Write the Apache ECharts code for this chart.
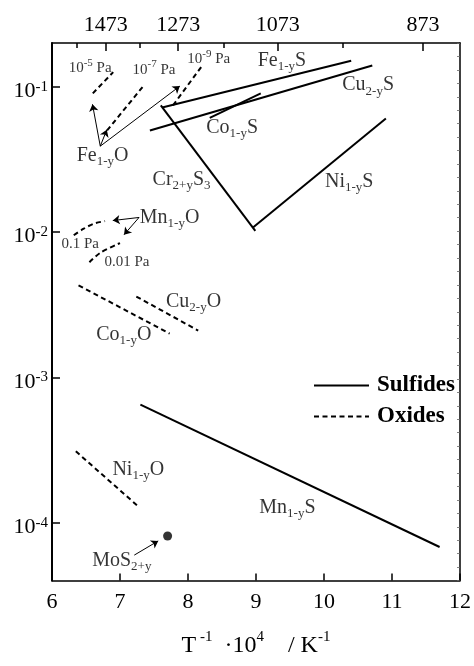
<!DOCTYPE html>
<html>
<head>
<meta charset="utf-8">
<script src="https://cdn.jsdelivr.net/npm/echarts@6/dist/echarts.min.js"></script>
<style>html,body{margin:0;padding:0;background:#fff;}#c{width:474px;height:666px;}</style>
</head>
<body>
<div id="c"></div>
<script>
// ---- data (x = 10^4/T in K^-1, y = deviation value on log scale) ----
const topMajorTemps = [1473, 1273, 1073, 873];
const topMinorTemps = [1573, 1373, 1173, 973];

const sulfideFe = [[7.62, 0.072], [10.40, 0.151]];
const sulfideCu = [[7.44, 0.050], [10.71, 0.140]];
const sulfideCo = [[8.32, 0.061], [9.07, 0.090]];
const sulfideCr = [[7.60, 0.0745], [8.99, 0.0102]];
const sulfideNi = [[8.96, 0.0108], [10.91, 0.0605]];
const sulfideMn = [[7.30, 6.5e-4], [11.70, 6.8e-5]];

const oxideFe5 = [[6.60, 0.090], [6.90, 0.126]];
const oxideFe7 = [[6.81, 0.050], [7.35, 0.102]];
const oxideFe9 = [[7.78, 0.0745], [8.21, 0.140]];
const oxideMn01 = [[6.32, 0.0095], [6.46, 0.0105], [6.61, 0.0114], [6.78, 0.0119]];
const oxideMn001 = [[6.55, 0.0062], [6.71, 0.0072], [7.00, 0.0084]];
const oxideCu = [[7.24, 0.0036], [8.15, 0.0021]];
const oxideCo = [[6.39, 0.0043], [7.73, 0.0020]];
const oxideNi = [[6.35, 3.1e-4], [7.28, 1.28e-4]];

const pointMoS2 = [[7.70, 8.1e-5]];

const arrowSegments = [
  [[6.71, 0.039], [6.595, 0.0757]],
  [[6.71, 0.039], [6.806, 0.0506]],
  [[6.71, 0.039], [7.88, 0.101]],
  [[7.28, 0.0126], [6.894, 0.0120]],
  [[7.28, 0.0126], [7.059, 0.00958]],
  [[7.21, 5.98e-5], [7.562, 7.49e-5]]
];

const annotationTexts = [
  '{p|10}{u|-5}{p| Pa}', '{p|10}{u|-7}{p| Pa}', '{p|10}{u|-9}{p| Pa}',
  '{m|Fe}{b|1-y}{m|O}', '{m|Fe}{b|1-y}{m|S}', '{m|Cu}{b|2-y}{m|S}',
  '{m|Co}{b|1-y}{m|S}', '{m|Cr}{b|2+y}{m|S}{b|3}', '{m|Ni}{b|1-y}{m|S}',
  '{m|Mn}{b|1-y}{m|S}', '{m|Mn}{b|1-y}{m|O}', '{p|0.1 Pa}', '{p|0.01 Pa}',
  '{m|Cu}{b|2-y}{m|O}', '{m|Co}{b|1-y}{m|O}', '{m|Ni}{b|1-y}{m|O}', '{m|MoS}{b|2+y}'
];
const annotationX = [6.561, 7.499, 8.305, 6.744, 9.382, 10.649, 8.649, 7.905, 10.371,
  9.462, 7.729, 6.415, 7.103, 8.082, 7.056, 7.269, 7.026];
const annotationY = [0.1354, 0.1312, 0.1547, 0.0336, 0.1518, 0.1024, 0.0525, 0.02286, 0.02226,
  1.27e-4, 0.01259, 0.0083, 0.00626, 0.00333, 0.00196, 2.31e-4, 5.45e-5];

// ---- chart ----
const FONT = 'Liberation Serif';
const chart = echarts.init(document.getElementById('c'), null, {renderer: 'canvas'});

function solid(data) {
  return {type: 'line', name: 'Sulfides', data: data, symbol: 'none', showSymbol: false,
    lineStyle: {color: '#000', width: 2, type: 'solid'}, itemStyle: {color: '#000'}, silent: true, z: 3};
}
function dashed(data, smooth) {
  return {type: 'line', name: 'Oxides', data: data, symbol: 'none', showSymbol: false, smooth: smooth || false,
    lineStyle: {color: '#000', width: 2, type: [5, 3.5]}, itemStyle: {color: '#000'}, silent: true, z: 3};
}

const series = [
  solid(sulfideFe), solid(sulfideCu), solid(sulfideCo), solid(sulfideCr), solid(sulfideNi), solid(sulfideMn),
  dashed(oxideFe5), dashed(oxideFe7), dashed(oxideFe9), dashed(oxideMn01, 0.3), dashed(oxideMn001, 0.3),
  dashed(oxideCu), dashed(oxideCo), dashed(oxideNi),
  {
    type: 'scatter', name: 'MoS2', data: pointMoS2, symbol: 'circle', symbolSize: 9,
    itemStyle: {color: '#000'}, silent: true, z: 4
  },
  {
    type: 'lines', name: 'arrows', coordinateSystem: 'cartesian2d', polyline: false,
    data: arrowSegments.map(s => ({coords: s})),
    symbol: ['none', 'arrow'], symbolSize: 7,
    lineStyle: {color: '#000', width: 1, opacity: 1, curveness: 0},
    silent: true, z: 4
  },
  {
    type: 'scatter', name: 'labels', symbolSize: 1, itemStyle: {color: 'rgba(0,0,0,0)'}, silent: true, z: 5,
    data: annotationTexts.map((t, i) => ({name: t, value: [annotationX[i], annotationY[i]]})),
    label: {
      show: true, position: 'inside', color: '#000', fontFamily: FONT,
      formatter: p => p.name,
      rich: {
        m: {fontSize: 20, lineHeight: 20, fontFamily: FONT, color: '#000'},
        b: {fontSize: 13, lineHeight: 13, fontFamily: FONT, color: '#000', padding: [12, 0, 0, 0]},
        p: {fontSize: 15, lineHeight: 15, fontFamily: FONT, color: '#000'},
        u: {fontSize: 11, lineHeight: 11, fontFamily: FONT, color: '#000', padding: [0, 0, 10, 0]}
      }
    }
  }
];

const option = {
  animation: false,
  backgroundColor: '#fff',
  grid: {left: 52, right: 13, top: 43, bottom: 80, containLabel: false},
  legend: {
    data: ['Sulfides', 'Oxides'], orient: 'vertical', left: 313, top: 374, padding: 0,
    itemWidth: 55, itemHeight: 14, itemGap: 8, selectedMode: false,
    itemStyle: {color: 'rgba(0,0,0,0)', borderColor: 'rgba(0,0,0,0)', borderWidth: 0, opacity: 0},
    textStyle: {fontFamily: FONT, fontWeight: 'bold', fontSize: 23, color: '#000', lineHeight: 21, padding: [0, 0, 0, 3]}
  },
  xAxis: [
    {
      type: 'value', position: 'bottom', min: 6, max: 12, interval: 1,
      axisLine: {show: true, lineStyle: {color: '#000', width: 1.5}},
      axisTick: {show: true, inside: true, length: 7, lineStyle: {color: '#000', width: 1.5}},
      axisLabel: {show: true, margin: 11, fontFamily: FONT, fontSize: 22, color: '#000'},
      splitLine: {show: false},
      name: '{m|T}{s| -1}{m|  ·10}{s|4}{m|    / K}{s|-1}',
      nameLocation: 'middle', nameGap: 52,
      nameTextStyle: {
        color: '#000', fontFamily: FONT,
        rich: {
          m: {fontSize: 24, lineHeight: 26, fontFamily: FONT, color: '#000'},
          s: {fontSize: 15, lineHeight: 15, fontFamily: FONT, color: '#000', padding: [0, 0, 16, 0]}
        }
      }
    },
    {
      type: 'value', position: 'top', min: 6, max: 12,
      axisLine: {show: true, lineStyle: {color: '#000', width: 1.5}},
      axisTick: {show: true, inside: true, length: 8, lineStyle: {color: '#000', width: 1.5},
        customValues: topMajorTemps.map(t => 10000 / t)},
      axisLabel: {show: true, margin: 7, fontFamily: FONT, fontSize: 22, color: '#000',
        customValues: topMajorTemps.map(t => 10000 / t),
        formatter: v => String(Math.round(10000 / v))},
      splitLine: {show: false}
    },
    {
      type: 'value', position: 'top', min: 6, max: 12,
      axisLine: {show: false},
      axisTick: {show: true, inside: true, length: 5, lineStyle: {color: '#000', width: 1.5},
        customValues: topMinorTemps.map(t => 10000 / t)},
      axisLabel: {show: false, customValues: topMinorTemps.map(t => 10000 / t)},
      splitLine: {show: false}
    }
  ],
  yAxis: [
    {
      type: 'log', logBase: 10, position: 'left', min: 4e-5, max: 0.2,
      axisLine: {show: true, lineStyle: {color: '#000', width: 2}},
      axisTick: {show: true, inside: true, length: 8, lineStyle: {color: '#000', width: 1.5}},
      axisLabel: {
        show: true, margin: 4, showMinLabel: false, showMaxLabel: false, padding: [9, 0, 0, 0],
        formatter: v => {
          const l = Math.log10(v);
          const e = Math.round(l);
          if (Math.abs(l - e) > 1e-3) return '';
          return '{m|10}{s|' + e + '}';
        },
        rich: {
          m: {fontSize: 22, lineHeight: 22, fontFamily: FONT, color: '#000'},
          s: {fontSize: 15, lineHeight: 15, fontFamily: FONT, color: '#000', padding: [0, 0, 9, 0]}
        }
      },
      splitLine: {show: false}
    },
    {
      type: 'value', position: 'right', min: 0, max: 40, interval: 1,
      axisLine: {show: true, lineStyle: {color: '#000', width: 1.5}},
      axisTick: {show: true, inside: true, length: 3, lineStyle: {color: '#666', width: 0.8}},
      axisLabel: {show: false},
      splitLine: {show: false}
    }
  ],
  series: series
};
chart.setOption(option);
</script>
</body>
</html>
